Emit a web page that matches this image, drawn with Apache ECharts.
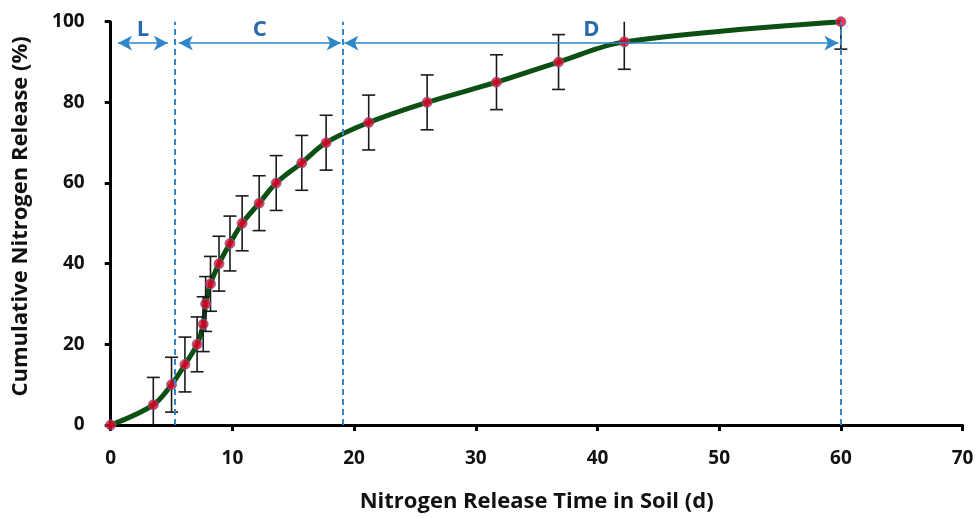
<!DOCTYPE html>
<html>
<head>
<meta charset="utf-8">
<script src="https://cdn.jsdelivr.net/npm/echarts@6/dist/echarts.min.js"></script>
<style>
  html, body { margin: 0; padding: 0; background: #fff; }
  #chart { width: 979px; height: 518px; }
</style>
</head>
<body>
<div id="chart"></div>
<script>
// Release time (days) and cumulative nitrogen release (%) per sampling point
const days = [0, 3.5, 5.0, 6.1, 7.1, 7.6, 7.8, 8.2, 8.9, 9.8, 10.8, 12.2, 13.6, 15.7, 17.7, 21.2, 26.0, 31.7, 36.8, 42.2, 60];
const release = [0, 5, 10, 15, 20, 25, 30, 35, 40, 45, 50, 55, 60, 65, 70, 75, 80, 85, 90, 95, 100];
// Standard deviation of each point (%)
const errorPct = [0, 6.8, 6.8, 6.8, 6.8, 6.8, 6.8, 6.8, 6.8, 6.8, 6.8, 6.8, 6.8, 6.8, 6.8, 6.8, 6.8, 6.8, 6.8, 6.8, 6.8];

// Axis ticks
const xTicks = [0, 10, 20, 30, 40, 50, 60, 70];
const yTicks = [0, 20, 40, 60, 80, 100];

// Release phases: lag (L), constant (C), decline (D)
const phaseNames = ['L', 'C', 'D'];
const phaseStart = [0.6, 5.6, 19.2];
const phaseEnd = [4.7, 18.9, 59.8];
const phaseLevel = 94.7;
const phaseDividers = [5.3, 19.1, 60];

const X_MIN = xTicks[0], X_MAX = xTicks[xTicks.length - 1];
const Y_MIN = yTicks[0], Y_MAX = yTicks[yTicks.length - 1];

const FONT = '"Open Sans", Lato, sans-serif';
const BLUE_LINE = '#2f86c8';
const BLUE_TEXT = '#2a6aab';

const points = days.map((d, i) => [d, release[i]]);
const bars = days.map((d, i) => [d, release[i], errorPct[i]]);

const arrowLines = phaseNames.map((n, i) => [
  { coord: [phaseStart[i], phaseLevel], name: n },
  { coord: [phaseEnd[i], phaseLevel] }
]);
const dividerLines = phaseDividers.map(x => [
  { coord: [x, Y_MIN] },
  { coord: [x, Y_MAX] }
]);

const chart = echarts.init(document.getElementById('chart'), null, { renderer: 'canvas' });

chart.setOption({
  animation: false,
  backgroundColor: '#ffffff',
  grid: { left: 110.7, right: 16.4, top: 21.7, bottom: 91.3, containLabel: false },
  xAxis: {
    type: 'value',
    min: X_MIN, max: X_MAX, interval: xTicks[1] - xTicks[0],
    name: 'Nitrogen Release Time in Soil (d)',
    nameLocation: 'middle',
    nameGap: 66,
    nameTextStyle: { fontFamily: FONT, fontWeight: 'bold', fontSize: 22, color: '#111' },
    axisLine: { show: true, onZero: false, lineStyle: { color: '#000', width: 3 } },
    axisTick: { show: true, inside: false, length: 6, lineStyle: { color: '#000', width: 3 } },
    axisLabel: { margin: 24, fontFamily: FONT, fontWeight: 'bold', fontSize: 19, color: '#111' },
    splitLine: { show: false }
  },
  yAxis: {
    type: 'value',
    min: Y_MIN, max: Y_MAX, interval: yTicks[1] - yTicks[0],
    name: 'Cumulative Nitrogen Release (%)',
    nameLocation: 'middle',
    nameGap: 79,
    nameRotate: 90,
    nameTextStyle: { fontFamily: FONT, fontWeight: 'bold', fontSize: 22, color: '#111', padding: [0, 0, 0, 14] },
    axisLine: { show: true, onZero: false, lineStyle: { color: '#000', width: 3 } },
    axisTick: { show: true, inside: false, length: 6, lineStyle: { color: '#000', width: 3 } },
    axisLabel: { margin: 26, fontFamily: FONT, fontWeight: 'bold', fontSize: 19, color: '#111' },
    splitLine: { show: false }
  },
  series: [
    {
      // dashed phase dividers
      name: 'phases',
      type: 'scatter',
      data: [],
      z: 1,
      silent: true,
      markLine: {
        silent: true,
        animation: false,
        symbol: ['none', 'none'],
        label: { show: false },
        lineStyle: { color: BLUE_LINE, width: 2, type: [6, 4] },
        data: dividerLines
      }
    },
    {
      // double-headed phase arrows with their letters
      name: 'phaseArrows',
      type: 'scatter',
      data: [],
      z: 1,
      silent: true,
      markLine: {
        silent: true,
        animation: false,
        symbol: ['arrow', 'arrow'],
        symbolSize: [11, 14],
        lineStyle: { color: BLUE_LINE, width: 1.6, type: 'solid' },
        label: {
          show: true,
          position: 'insideMiddleTop',
          distance: 2,
          formatter: p => p.name,
          fontFamily: FONT, fontWeight: 'bold', fontSize: 22, color: BLUE_TEXT
        },
        data: arrowLines
      }
    },
    {
      name: 'curve',
      type: 'line',
      data: points,
      smooth: 0.35,
      showSymbol: false,
      z: 2,
      lineStyle: { color: '#0c4f12', width: 5 }
    },
    {
      name: 'errorBars',
      type: 'custom',
      z: 3,
      data: bars,
      renderItem: function (params, api) {
        const x = api.value(0), y = api.value(1), e = api.value(2);
        if (!e) return null;
        const lo = y - e, hi = y + e;
        const loC = Math.max(lo, Y_MIN), hiC = Math.min(hi, Y_MAX);
        const pLo = api.coord([x, loC]);
        const pHi = api.coord([x, hiC]);
        const half = 6.5;
        const style = { stroke: '#1a1a1a', lineWidth: 1.6 };
        const children = [{
          type: 'line', shape: { x1: pLo[0], y1: pLo[1], x2: pHi[0], y2: pHi[1] }, style: style
        }];
        if (lo >= Y_MIN) children.push({
          type: 'line', shape: { x1: pLo[0] - half, y1: pLo[1], x2: pLo[0] + half, y2: pLo[1] }, style: style
        });
        if (hi <= Y_MAX) children.push({
          type: 'line', shape: { x1: pHi[0] - half, y1: pHi[1], x2: pHi[0] + half, y2: pHi[1] }, style: style
        });
        return { type: 'group', children: children };
      }
    },
    {
      name: 'points',
      type: 'scatter',
      data: points,
      z: 4,
      symbol: 'circle',
      symbolSize: 10,
      itemStyle: { color: '#e8062a', borderColor: '#6b6f9c', borderWidth: 1 }
    }
  ]
});
</script>
</body>
</html>
